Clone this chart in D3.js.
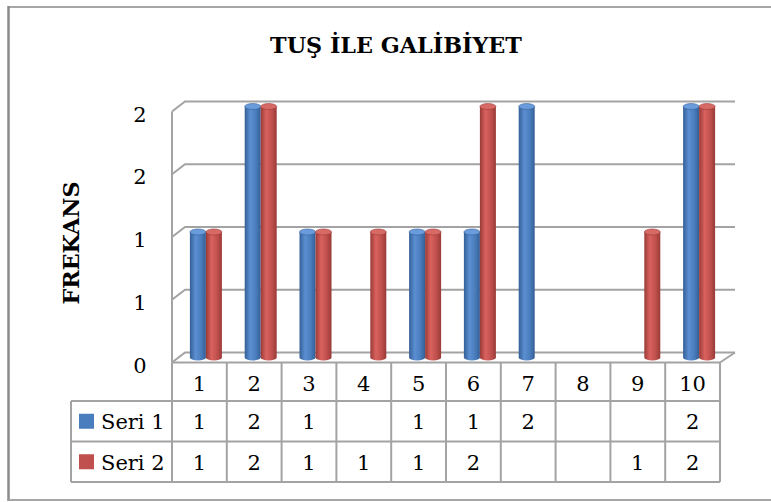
<!DOCTYPE html>
<html>
<head>
<meta charset="utf-8">
<script src="https://cdn.jsdelivr.net/npm/d3@7"></script>
<style>
  html, body { margin: 0; padding: 0; background: #fff; }
  svg { display: block; }
  text { font-family: "DejaVu Serif", "Liberation Serif", serif; fill: #000; }
</style>
</head>
<body>
<svg id="chart" width="771" height="502"></svg>
<script>
// ---- data ----
const categories = ["1", "2", "3", "4", "5", "6", "7", "8", "9", "10"];
const seriesNames = ["Seri 1", "Seri 2"];
const seri1 = [1, 2, 1, null, 1, 1, 2, null, null, 2];
const seri2 = [1, 2, 1, 1, 1, 2, null, null, 1, 2];
const tickValues = [0, 0.5, 1, 1.5, 2];
const tickLabels = ["0", "1", "1", "2", "2"];
const titleText = "TUŞ İLE GALİBİYET";
const yTitle = "FREKANS";

const seriesData = [seri1, seri2];
const colors = [
  { edge: "#345f96", mid: "#5b8fd2", base: "#4a7dbd", top: "#6a9bdc" },
  { edge: "#993a37", mid: "#d9625e", base: "#c0504d", top: "#d86a66" }
];

const svg = d3.select("#chart");
const defs = svg.append("defs");
colors.forEach((c, i) => {
  const g = defs.append("linearGradient").attr("id", "cyl" + i)
    .attr("x1", "0%").attr("x2", "100%").attr("y1", "0%").attr("y2", "0%");
  g.append("stop").attr("offset", "0%").attr("stop-color", c.edge);
  g.append("stop").attr("offset", "35%").attr("stop-color", c.mid);
  g.append("stop").attr("offset", "70%").attr("stop-color", c.base);
  g.append("stop").attr("offset", "100%").attr("stop-color", c.edge);
});

// ---- geometry ----
const left = 172, right = 720;
const depthX = 13, depthY = -10;
const x = d3.scaleBand().domain(categories).range([left, right]).padding(0);
const y = d3.scaleLinear().domain([0, 2]).range([362.5, 111.5]);
const grey = "#a3a3a3";

// outer frame
svg.append("line").attr("x1", 8.5).attr("x2", 780).attr("y1", 7).attr("y2", 7)
  .attr("stroke", "#a6a6a6").attr("stroke-width", 2);
svg.append("line").attr("x1", 8.5).attr("x2", 8.5).attr("y1", 6).attr("y2", 501)
  .attr("stroke", "#8a8a8a").attr("stroke-width", 2.5);
svg.append("line").attr("x1", 8.5).attr("x2", 780).attr("y1", 500).attr("y2", 500)
  .attr("stroke", "#a6a6a6").attr("stroke-width", 2);

// title
const title = svg.append("text").attr("x", 396).attr("y", 53)
  .attr("text-anchor", "middle").attr("font-weight", "bold")
  .attr("font-size", 24).text(titleText);
{
  const w = title.node().getComputedTextLength();
  title.attr("font-size", 24 * 252 / w);
}

// y title
const yt = svg.append("text")
  .attr("transform", "translate(79,243) rotate(-90)")
  .attr("text-anchor", "middle").attr("font-weight", "bold")
  .attr("font-size", 20).text(yTitle);
{
  const w = yt.node().getComputedTextLength();
  yt.attr("font-size", 20 * 123 / w);
}

// gridlines (back wall + side wall)
const backRight = right + depthX + 2;
tickValues.forEach(v => {
  const yf = y(v);
  svg.append("path")
    .attr("d", `M${left},${yf} L${left + depthX},${yf + depthY} L${backRight},${yf + depthY}`)
    .attr("fill", "none").attr("stroke", grey).attr("stroke-width", 2);
});
// floor right edge
svg.append("line").attr("x1", right).attr("y1", y(0)).attr("x2", backRight).attr("y2", y(0) + depthY)
  .attr("stroke", grey).attr("stroke-width", 2);
// front axis line
svg.append("line").attr("x1", left).attr("x2", left).attr("y1", y(2)).attr("y2", y(0))
  .attr("stroke", grey).attr("stroke-width", 2);

// tick labels
tickValues.forEach((v, i) => {
  svg.append("text").attr("x", 140).attr("y", y(v) + 3)
    .attr("text-anchor", "middle").attr("dominant-baseline", "central")
    .attr("font-size", 21).text(tickLabels[i]);
});

// bars (cylinders)
const barW = 16, ry = 3;
const barsG = svg.append("g");
seriesData.forEach((vals, s) => {
  vals.forEach((v, i) => {
    if (v == null) return;
    const cx = x(categories[i]) + x.bandwidth() / 2 + depthX / 2;
    const x0 = cx - barW + s * barW;
    const yb = y(0) + depthY / 2;
    const yt2 = y(v) + depthY / 2;
    const g = barsG.append("g");
    g.append("path")
      .attr("d", `M${x0},${yt2} L${x0},${yb} A${barW / 2},${ry} 0 0 0 ${x0 + barW},${yb} L${x0 + barW},${yt2} Z`)
      .attr("fill", `url(#cyl${s})`);
    g.append("ellipse").attr("cx", x0 + barW / 2).attr("cy", yt2)
      .attr("rx", barW / 2).attr("ry", ry)
      .attr("fill", colors[s].top).attr("stroke", colors[s].edge).attr("stroke-width", 0.6);
  });
});

// data table
const rowY = [362.5, 401, 441.5, 482];
const legendLeft = 71;
const tbl = svg.append("g");
// horizontal lines
tbl.append("line").attr("x1", left).attr("x2", right).attr("y1", rowY[0]).attr("y2", rowY[0])
  .attr("stroke", grey).attr("stroke-width", 2);
[1, 2, 3].forEach(r => {
  tbl.append("line").attr("x1", legendLeft).attr("x2", right).attr("y1", rowY[r]).attr("y2", rowY[r])
    .attr("stroke", grey).attr("stroke-width", 2);
});
// vertical lines
tbl.append("line").attr("x1", legendLeft).attr("x2", legendLeft).attr("y1", rowY[1]).attr("y2", rowY[3])
  .attr("stroke", grey).attr("stroke-width", 2);
categories.forEach((c, i) => {
  const xx = x(c);
  tbl.append("line").attr("x1", xx).attr("x2", xx).attr("y1", rowY[0]).attr("y2", rowY[3])
    .attr("stroke", grey).attr("stroke-width", 2);
});
tbl.append("line").attr("x1", right).attr("x2", right).attr("y1", rowY[0]).attr("y2", rowY[3])
  .attr("stroke", grey).attr("stroke-width", 2);

// category labels
categories.forEach(c => {
  tbl.append("text").attr("x", x(c) + x.bandwidth() / 2).attr("y", (rowY[0] + rowY[1]) / 2 + 2)
    .attr("text-anchor", "middle").attr("dominant-baseline", "central")
    .attr("font-size", 21).text(c);
});
// series rows
seriesData.forEach((vals, s) => {
  const cy = (rowY[s + 1] + rowY[s + 2]) / 2;
  tbl.append("rect").attr("x", 79).attr("y", cy - 7.5).attr("width", 15).attr("height", 15)
    .attr("fill", colors[s].base);
  tbl.append("text").attr("x", 101).attr("y", cy + 1)
    .attr("dominant-baseline", "central").attr("font-size", 21).text(seriesNames[s]);
  vals.forEach((v, i) => {
    if (v == null) return;
    tbl.append("text").attr("x", x(categories[i]) + x.bandwidth() / 2).attr("y", cy + 1)
      .attr("text-anchor", "middle").attr("dominant-baseline", "central")
      .attr("font-size", 21).text(v);
  });
});
</script>
</body>
</html>
